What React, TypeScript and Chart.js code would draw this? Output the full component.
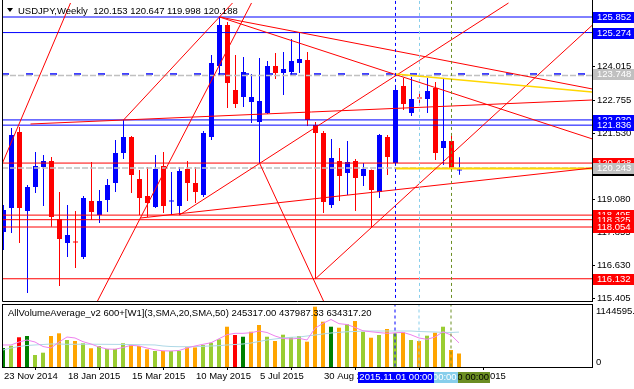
import React, { useEffect, useRef } from 'react';
import { Chart, registerables } from 'chart.js';

Chart.register(...registerables);

// ---------------- data ----------------
const chartTitle = 'USDJPY,Weekly';
const volumeTitle = 'AllVolumeAverage_v2 600+[W1](3,SMA,20,SMA,50)';

const opens = [117.868, 118.76, 121.582, 118.648, 119.539, 120.282, 120.505, 118.351, 117.46, 117.516, 116.94, 119.02, 118.5, 119.057, 119.688, 120.802, 121.396, 119.836, 119.205, 118.797, 120.319, 119.001, 118.834, 120.208, 119.688, 119.242, 121.396, 124.032, 125.555, 123.141, 122.881, 122.696, 121.953, 122.287, 124.032, 123.773, 123.81, 124.144, 124.255, 121.842, 121.545, 118.871, 120.505, 120.059, 120.505, 119.948, 120.171, 119.354, 121.396, 120.431, 123.29, 122.287, 122.863, 122.807, 123.216, 120.988, 121.248, 120.153];
const highs = [118.871, 121.73, 121.767, 119.614, 120.839, 120.728, 120.653, 119.354, 118.871, 118.648, 119.205, 120.468, 119.428, 119.836, 121.285, 122.027, 121.433, 120.171, 120.282, 120.728, 120.839, 120.096, 120.282, 120.505, 120.282, 121.619, 124.441, 125.852, 125.666, 124.441, 124.367, 123.735, 124.33, 124.218, 124.515, 124.552, 125.035, 125.274, 124.552, 121.953, 121.619, 121.322, 120.988, 121.248, 120.579, 120.431, 120.189, 121.507, 121.47, 123.29, 123.587, 123.624, 123.067, 123.587, 123.438, 123.587, 121.433, 120.647];
const lows = [117.2, 117.831, 117.46, 115.603, 119.317, 118.834, 118.06, 115.863, 116.94, 116.532, 116.866, 118.314, 118.203, 118.611, 119.354, 120.579, 119.317, 118.5, 118.425, 118.76, 118.574, 118.5, 118.5, 119.02, 118.945, 119.168, 121.285, 123.698, 122.473, 122.473, 122.51, 121.916, 120.431, 122.25, 123.55, 122.956, 123.698, 123.773, 121.804, 116.132, 118.574, 118.76, 119.02, 119.242, 118.648, 119.576, 118.054, 119.131, 119.985, 120.393, 122.399, 122.176, 122.659, 122.287, 120.542, 120.356, 120.226, 119.998];
const closes = [118.685, 121.47, 118.76, 119.539, 120.319, 120.505, 118.425, 117.608, 117.757, 117.478, 119.131, 118.611, 119.02, 119.614, 120.802, 121.396, 119.985, 119.131, 118.945, 120.208, 118.834, 119.038, 120.134, 119.688, 119.354, 121.545, 124.144, 125.555, 123.401, 122.621, 123.81, 122.881, 122.733, 124.032, 123.773, 123.921, 124.218, 124.292, 122.027, 121.545, 118.982, 120.616, 119.948, 120.468, 119.874, 120.208, 119.428, 121.47, 120.653, 123.141, 122.621, 122.807, 122.826, 123.104, 120.802, 121.248, 120.245, 120.188];

const volumes = [345000, 387000, 540000, 563000, 218000, 260000, 563000, 612000, 491000, 472000, 431000, 340000, 382000, 327000, 329000, 431000, 400000, 382000, 322000, 291000, 293000, 290000, 292000, 358000, 356000, 400000, 441000, 503000, 732000, 581000, 550000, 641000, 763000, 550000, 472000, 587000, 540000, 563000, 460000, 1096000, 823000, 732000, 714000, 776000, 836000, 641000, 532000, 581000, 690000, 612000, 630000, 491000, 472000, 569000, 623000, 732000, 309000, 245317];
const volumeKinds = ['G', 'y', 'r', 'G', 'y', 'y', 'o', 'o', 'y', 'o', 'y', 'o', 'y', 'y', 'y', 'y', 'o', 'o', 'o', 'y', 'o', 'y', 'y', 'o', 'o', 'y', 'y', 'y', 'o', 'r', 'G', 'o', 'o', 'y', 'o', 'y', 'y', 'y', 'o', 'o', 'o', 'G', 'o', 'y', 'o', 'y', 'o', 'y', 'o', 'y', 'o', 'y', 'o', 'y', 'o', 'y', 'o', 'o'];
const volumeFastAvg = [400000, 400000, 454000, 490000, 454000, 372000, 345000, 454000, 545000, 527000, 460000, 418000, 363000, 327000, 322000, 354000, 394000, 382000, 345000, 312000, 294000, 291000, 300000, 345000, 382000, 412000, 441000, 514000, 587000, 612000, 612000, 623000, 654000, 627000, 563000, 518000, 509000, 521000, 491000, 703000, 794000, 863000, 787000, 772000, 718000, 658000, 640000, 625000, 612000, 621000, 630000, 585000, 527000, 503000, 545000, 640000, 581000, 437987.33];
const volumeSlowAvg = [309000, 345000, 372000, 391000, 400000, 409000, 418000, 418000, 412000, 413000, 414000, 414000, 413000, 412000, 411000, 410000, 408000, 405000, 403000, 400000, 382000, 372000, 369000, 369000, 372000, 376000, 382000, 387000, 400000, 409000, 418000, 436000, 463000, 491000, 509000, 527000, 540000, 545000, 563000, 581000, 600000, 618000, 630000, 640000, 645000, 654000, 654000, 654000, 654000, 654000, 654000, 654000, 645000, 640000, 636000, 630000, 627000, 634317.2];
const volumeScaleMax = 1144595.5;

const timeTickIndex = [0, 8, 16, 24, 32, 40, 48, 56];
const timeTickLabels = ['23 Nov 2014', '18 Jan 2015', '15 Mar 2015', '10 May 2015', '5 Jul 2015', '30 Aug 2015', '25 Oct 2015', '20 Dec 2015'];
const priceTicks = [124.015, 122.755, 121.53, 120.305, 119.08, 117.855, 116.63, 115.405];

const blueLevels = [125.852, 125.274, 122.03, 121.836];
const redLevels = [120.428, 118.495, 118.325, 118.054, 116.132];
const greyLevels = [123.68, 120.243];
const greyTags = [123.748, 120.243];
const hiddenTag = 120.153;
const blueDashLevel = 123.735;
const goldLevel = 120.225;
const goldLevelStart = 49;

// [startIndex, startPrice, endIndex, endPrice]
const redTrendLines = [
  [-0.125, 120.431, 8.375, 126.372],
  [15, 122.027, 28.625, 126.372],
  [11.75, 115.306, 31, 126.372],
  [3.375, 121.879, 73.625, 122.77],
  [27, 125.852, 73.625, 123.178],
  [27, 125.852, 73.625, 121.322],
  [22, 118.5, 63.125, 126.372],
  [17.125, 118.388, 73.625, 120.245],
  [39, 116.132, 73.625, 125.555],
  [32, 120.431, 40, 115.306],
];
const goldTrendLine = [49, 123.735, 73.625, 123.067];

const markerIndex = [49, 52, 56];
const markerLabels = ['2015.11.01 00:00', '2015.11.22 00:00', '2015.12.20 00:00'];

// ---------------- styles ----------------
const FONT_FAMILY = 'Liberation Sans';
const FONT_SIZE = 9.5;
const CFONT = `${FONT_SIZE}px '${FONT_FAMILY}'`;
const BULL = '#0000ff';
const BEAR = '#ff0000';
const GREY = '#c0c0c0';
const GOLD = '#ffd700';
const markerColors = ['#0000ff', '#87ceeb', '#6b8e23'];
const markerText = ['#ffffff', '#ffffff', '#000000'];
const volColorMap: Record<string, string> = { G: '#008000', y: '#9acd32', r: '#ff0000', o: '#ffa500' };

const MX_MIN = -0.1875;
const MX_MAX = MX_MIN + 590 / 8;
const VX_MIN = -0.125;
const VX_MAX = VX_MIN + 590 / 8;
const Y_MAX = 125.852 + 17 / 26.93;
const Y_MIN = 125.852 - 284 / 26.93;

function seg(x1: number, y1: number, x2: number, y2: number, color: string, width = 1, dash: number[] = []) {
  return {
    type: 'line' as const,
    data: [{ x: x1, y: y1 }, { x: x2, y: y2 }],
    borderColor: color,
    borderWidth: width,
    borderDash: dash,
    pointRadius: 0,
    fill: false,
    order: 0,
  };
}

function mainConfig(): any {
  const idx = opens.map((_, i) => i);
  const colors = opens.map((o, i) => (closes[i] >= o ? BULL : BEAR));
  const datasets: any[] = [];
  // vertical markers
  markerIndex.forEach((m, k) => datasets.push(seg(m, Y_MIN - 1, m, Y_MAX + 1, markerColors[k], 1, [3, 3])));
  // trend lines
  datasets.push(seg(goldTrendLine[0], goldTrendLine[1], goldTrendLine[2], goldTrendLine[3], GOLD, 1.5));
  redTrendLines.forEach((t) => datasets.push(seg(t[0], t[1], t[2], t[3], BEAR, 1)));
  // horizontal levels
  redLevels.forEach((v) => datasets.push(seg(MX_MIN - 1, v, MX_MAX + 1, v, BEAR, 1)));
  blueLevels.forEach((v) => datasets.push(seg(MX_MIN - 1, v, MX_MAX + 1, v, BULL, 1)));
  datasets.push(seg(goldLevelStart, goldLevel, MX_MAX + 1, goldLevel, GOLD, 2));
  greyLevels.forEach((v) => datasets.push(seg(MX_MIN - 1, v, MX_MAX + 1, v, GREY, 1.5, [6, 2])));
  datasets.push(seg(MX_MIN, blueDashLevel, MX_MAX + 1, blueDashLevel, BULL, 1.5, [7, 17]));
  // candles
  datasets.push({
    type: 'bar',
    data: idx.map((i) => ({ x: i, y: [opens[i], closes[i]] })),
    backgroundColor: colors,
    barThickness: 5,
    maxBarThickness: 5,
    minBarLength: 1,
    grouped: false,
    inflateAmount: 0,
    order: 9,
  });
  datasets.push({
    type: 'bar',
    data: idx.map((i) => ({ x: i, y: [lows[i], highs[i]] })),
    backgroundColor: colors,
    barThickness: 1,
    maxBarThickness: 1,
    minBarLength: 1,
    grouped: false,
    inflateAmount: 0,
    order: 10,
  });

  const decor = {
    id: 'mainDecor',
    afterDraw(chart: any) {
      const { ctx, chartArea: a, scales } = chart;
      const ys = scales.y;
      ctx.save();
      ctx.strokeStyle = '#000';
      ctx.lineWidth = 1;
      ctx.beginPath();
      ctx.moveTo(a.left + 0.5, a.top);
      ctx.lineTo(a.left + 0.5, a.bottom + 0.5);
      ctx.lineTo(a.right + 0.5, a.bottom + 0.5);
      ctx.stroke();
      // title
      ctx.fillStyle = '#000';
      ctx.beginPath();
      ctx.moveTo(7, 8);
      ctx.lineTo(13, 8);
      ctx.lineTo(10, 12);
      ctx.closePath();
      ctx.fill();
      ctx.font = CFONT;
      ctx.textAlign = 'left';
      ctx.textBaseline = 'middle';
      const L = opens.length - 1;
      ctx.fillText(
        `${chartTitle}  ${opens[L].toFixed(3)} ${highs[L].toFixed(3)} ${lows[L].toFixed(3)} ${closes[L].toFixed(3)}`,
        18,
        11
      );
      // price tags
      const tags: { v: number; bg: string; fg: string }[] = [
        { v: hiddenTag, bg: '#000000', fg: '#000000' },
        { v: blueLevels[2], bg: BULL, fg: '#fff' },
        { v: blueLevels[3], bg: BULL, fg: '#fff' },
        { v: redLevels[0], bg: BEAR, fg: '#fff' },
        { v: greyTags[1], bg: GREY, fg: '#fff' },
        { v: redLevels[1], bg: BEAR, fg: '#fff' },
        { v: redLevels[2], bg: BEAR, fg: '#fff' },
        { v: redLevels[3], bg: BEAR, fg: '#fff' },
        { v: redLevels[4], bg: BEAR, fg: '#fff' },
        { v: blueLevels[0], bg: BULL, fg: '#fff' },
        { v: blueLevels[1], bg: BULL, fg: '#fff' },
        { v: greyTags[0], bg: GREY, fg: '#fff' },
      ];
      for (const t of tags) {
        const py = Math.round(ys.getPixelForValue(t.v));
        ctx.fillStyle = t.bg;
        ctx.fillRect(a.right + 1, py - 5, 42, 11);
        ctx.fillStyle = t.fg;
        ctx.fillText(t.v.toFixed(3), a.right + 5, py + 0.5);
      }
      ctx.restore();
    },
  };

  return {
    type: 'bar',
    data: { datasets },
    plugins: [decor],
    options: {
      animation: false,
      responsive: false,
      maintainAspectRatio: false,
      devicePixelRatio: 1,
      events: [],
      layout: { padding: { left: 2, top: 0, right: 0, bottom: 2 } },
      plugins: { legend: { display: false }, tooltip: { enabled: false } },
      scales: {
        x: { type: 'linear', min: MX_MIN, max: MX_MAX, offset: false, display: false },
        y: {
          type: 'linear',
          position: 'right',
          min: Y_MIN,
          max: Y_MAX,
          beginAtZero: false,
          afterBuildTicks: (s: any) => {
            s.ticks = priceTicks.map((v) => ({ value: v }));
          },
          afterFit: (s: any) => {
            s.width = 42;
            s.paddingTop = 0;
            s.paddingBottom = 0;
          },
          ticks: {
            autoSkip: false,
            color: '#000',
            padding: 2,
            font: { family: FONT_FAMILY, size: FONT_SIZE },
            callback: (v: any) => Number(v).toFixed(3),
          },
          grid: { drawOnChartArea: false, drawTicks: true, tickLength: 3, color: '#000' },
          border: { display: true, color: '#000' },
        },
      },
    },
  };
}

function volConfig(): any {
  const idx = volumes.map((_, i) => i);
  const datasets: any[] = [];
  markerIndex.forEach((m, k) => datasets.push(seg(m, -100000, m, volumeScaleMax * 1.2, markerColors[k], 1, [3, 3])));
  datasets.push({
    type: 'line',
    data: idx.map((i) => ({ x: i, y: volumeFastAvg[i] })),
    borderColor: '#ee82ee',
    borderWidth: 1,
    pointRadius: 0,
    fill: false,
    order: 1,
  });
  datasets.push({
    type: 'line',
    data: idx.map((i) => ({ x: i, y: volumeSlowAvg[i] })),
    borderColor: '#add8e6',
    borderWidth: 1,
    pointRadius: 0,
    fill: false,
    order: 2,
  });
  datasets.push({
    type: 'bar',
    data: idx.map((i) => ({ x: i, y: volumes[i] })),
    backgroundColor: volumeKinds.map((k) => volColorMap[k]),
    barThickness: 4,
    maxBarThickness: 4,
    grouped: false,
    inflateAmount: 0,
    order: 5,
  });

  const decor = {
    id: 'volDecor',
    afterDraw(chart: any) {
      const { ctx, chartArea: a, scales } = chart;
      const xs = scales.x;
      ctx.save();
      ctx.strokeStyle = '#000';
      ctx.lineWidth = 1;
      ctx.strokeRect(a.left + 0.5, a.top + 0.5, a.right - a.left, a.bottom - a.top);
      ctx.font = CFONT;
      ctx.fillStyle = '#000';
      ctx.textAlign = 'left';
      ctx.textBaseline = 'middle';
      const L = volumes.length - 1;
      ctx.fillText(
        `${volumeTitle} ${volumes[L].toFixed(2)} ${volumeFastAvg[L].toFixed(2)} ${volumeSlowAvg[L].toFixed(2)}`,
        8,
        a.top + 9
      );
      ctx.fillText(String(volumeScaleMax), a.right + 4, a.top + 7);
      ctx.fillText('0', a.right + 4, a.bottom - 5);
      // marker time boxes (olive first, blue on top)
      ctx.textAlign = 'center';
      for (let k = markerIndex.length - 1; k >= 0; k--) {
        const cx = Math.round(xs.getPixelForValue(markerIndex[k])) + 1;
        ctx.fillStyle = markerColors[k];
        ctx.fillRect(cx - 38, a.bottom + 5, 76, 11);
        ctx.fillStyle = markerText[k];
        ctx.fillText(markerLabels[k], cx, a.bottom + 10.5);
      }
      ctx.restore();
    },
  };

  return {
    type: 'bar',
    data: { datasets },
    plugins: [decor],
    options: {
      animation: false,
      responsive: false,
      maintainAspectRatio: false,
      devicePixelRatio: 1,
      events: [],
      layout: { padding: { left: 2, top: 1, right: 0, bottom: 0 } },
      plugins: { legend: { display: false }, tooltip: { enabled: false } },
      scales: {
        x: {
          type: 'linear',
          position: 'bottom',
          min: VX_MIN,
          max: VX_MAX,
          offset: false,
          afterBuildTicks: (s: any) => {
            s.ticks = timeTickIndex.map((v) => ({ value: v }));
          },
          afterFit: (s: any) => {
            s.height = 22;
            s.paddingLeft = 0;
            s.paddingRight = 0;
          },
          ticks: {
            autoSkip: false,
            maxRotation: 0,
            minRotation: 0,
            align: 'start',
            labelOffset: 1,
            padding: 1,
            color: '#000',
            font: { family: FONT_FAMILY, size: FONT_SIZE },
            callback: (_v: any, i: number) => timeTickLabels[i],
          },
          grid: { drawOnChartArea: false, drawTicks: true, tickLength: 3, color: '#000' },
          border: { display: true, color: '#000' },
        },
        y: {
          type: 'linear',
          position: 'right',
          min: 0,
          max: volumeScaleMax,
          afterFit: (s: any) => {
            s.width = 42;
            s.paddingTop = 0;
            s.paddingBottom = 0;
          },
          ticks: { display: false },
          grid: { display: false },
          border: { display: true, color: '#000' },
        },
      },
    },
  };
}

export default function App() {
  const mainRef = useRef<HTMLCanvasElement>(null);
  const volRef = useRef<HTMLCanvasElement>(null);
  useEffect(() => {
    const main = new Chart(mainRef.current as HTMLCanvasElement, mainConfig());
    const vol = new Chart(volRef.current as HTMLCanvasElement, volConfig());
    return () => {
      main.destroy();
      vol.destroy();
    };
  }, []);
  return (
    <div style={{ position: 'fixed', left: 0, top: 0, width: 634, height: 389, background: '#fff', overflow: 'hidden' }}>
      <canvas ref={mainRef} width={634} height={303} style={{ position: 'absolute', left: 0, top: 0, width: 634, height: 303 }} />
      <canvas ref={volRef} width={634} height={86} style={{ position: 'absolute', left: 0, top: 303, width: 634, height: 86 }} />
    </div>
  );
}
